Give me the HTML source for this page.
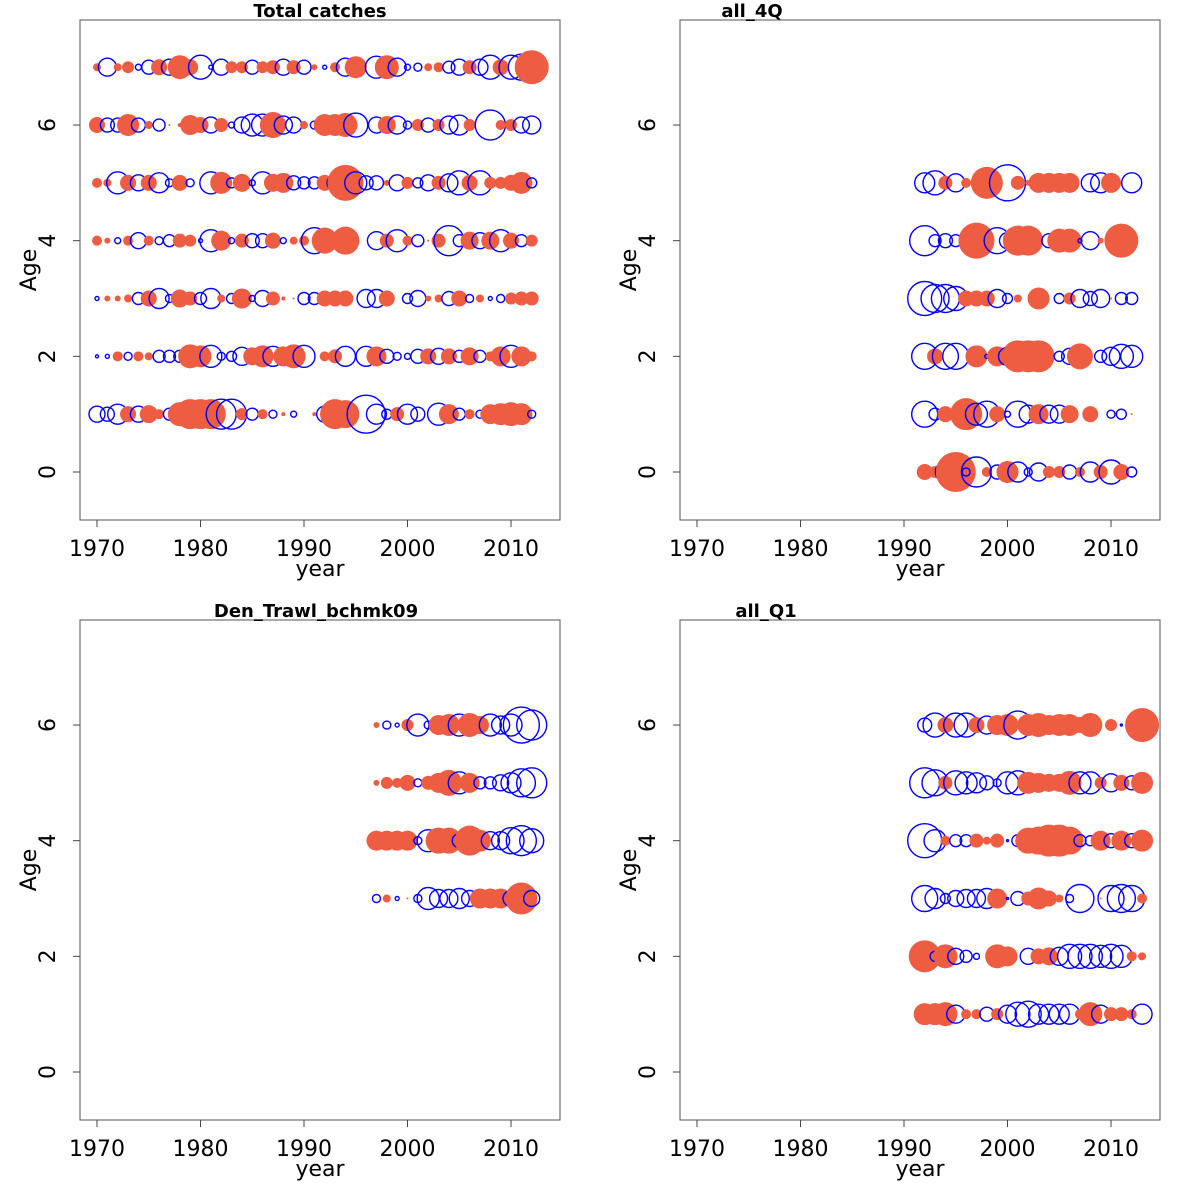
<!DOCTYPE html>
<html><head><meta charset="utf-8"><style>
body{margin:0;background:#fff}
svg{display:block;font-family:"DejaVu Sans","Liberation Sans",sans-serif}
</style></head><body>
<svg id="chart" width="1200" height="1200" viewBox="0 0 1200 1200"></svg>
<script>
// Panel 1: Total catches, years 1970-2012, ages 1..7 (signed residual: + red filled, - blue open)
const p1Years = Array.from({length:43},(_,i)=>1970+i);
const p1Ages = [1,2,3,4,5,6,7];
const p1Age1 = [-8,-7,-10,8,-8,9,5,-6,12,15,15,15,-15,-15,6,-6,5,-4,2,-3,0,2,-8,15,14,0,-19,-10,-5,7,-10,-7,0,-11,10,-6,5,-4,10,11,12,11,-4];
const p1Age2 = [-1.5,-2,5,-4,5,4,-6,-6,-6,12,11,-11,-4,-5,-9,9,11,-10,10,12,-11,0,5,7,-10,0,-10,10,-7,-4,-3,-7,8,-8,8,-6,9,-6,5,10,-11,10,5];
const p1Age3 = [-2,3,3,4,-6,8,-10,-4,9,7,-6,-10,4,-5,10,-3,-8,7,2,1,-6,-6,8,8,8,0,-9,-9,8,0,-5,-8,3,4,-7,8,-4,4,-2,-4,6,7,7];
const p1Age4 = [5,3,-3,5,-8,5,-4,-6,7,6,-2,-11,10,-3,7,-7,-7,8,-3,4,5,-13,13,0,14,0,0,-9,7,-11,5,-6,1,7,-15,-6,9,-8,9,-11,8,-6,6];
const p1Age5 = [5,4,-11,8,-8,8,-10,-4,8,-4,0,-11,11,-5,9,-3,-11,9,10,-7,-6,-6,8,-8,18,-11,-7,-7,3,-8,6,-5,-8,7,-9,-12,8,-12,6,6,8,11,-5];
const p1Age6 = [8,-7,-7,11,-7,4,-6,1,2,10,8,-8,7,-3,-8,-11,-11,13,-9,-8,4,-4,11,11,12,-12,0,-8,9,-9,-4,6,-7,6,-9,-10,6,0,-15,5,6,-8,-9];
const p1Age7 = [4,-9,4,6,-3,-7,8,-8,12,8,-12,-2,-8,6,6,-7,6,7,-8,7,-7,3,-2,5,-9,11,0,-11,12,-9,-3,-4,4,5,-6,-8,7,-8,-12,8,-12,-13,17];
const p1Rows = [p1Age1,p1Age2,p1Age3,p1Age4,p1Age5,p1Age6,p1Age7];

// Panel 2: all_4Q, years 1992-2012, ages 0..5
const p2Years = Array.from({length:21},(_,i)=>1992+i);
const p2Ages = [0,1,2,3,4,5];
const p2Age0 = [8,6,-10,20,-4,-15,5,-7,11,-10,-4,-9,6,6,-7,5,-10,7,-12,8,-5];
const p2Age1 = [-13,-6,8,0,16,-11,-13,8,-3,-13,-9,10,-9,-9,9,0,8,0,-4,-5,1];
const p2Age2 = [-13,8,-13,-13,0,11,-2,10,-9,16,16,16,0,-5,-8,13,0,-6,-9,-12,-11];
const p2Age3 = [-17,-14,-14,-12,8,8,8,-9,-5,4,0,11,0,-5,6,-9,-7,-9,1,-6,-6];
const p2Age4 = [-15,-6,-7,-6,0,18,0,-13,-8,15,15,0,-7,12,12,-2,-9,3,0,17,0];
const p2Age5 = [-10,-12,7,-9,5,0,16,0,-18,7,3,10,10,10,10,0,-9,-10,10,0,-10];
const p2Rows = [p2Age0,p2Age1,p2Age2,p2Age3,p2Age4,p2Age5];

// Panel 3: Den_Trawl_bchmk09, years 1997-2012, ages 3..6
const p3Years = Array.from({length:16},(_,i)=>1997+i);
const p3Ages = [3,4,5,6];
const p3Age3 = [-4,4,-2,1,-4,-11,-9,-9,-10,-8,10,10,10,-8,16,-8];
const p3Age4 = [10,10,10,10,-4,-11,13,13,-7,15,11,-9,-9,-13,-15,-12];
const p3Age5 = [3,6,5,8,-4,7,10,13,-11,10,-6,-6,-8,-10,-14,-15];
const p3Age6 = [3,-4,-2,6,-11,-4,10,11,-11,12,9,-11,-9,-11,-18,-15];
const p3Rows = [p3Age3,p3Age4,p3Age5,p3Age6];

// Panel 4: all_Q1, years 1992-2013, ages 1..6
const p4Years = Array.from({length:22},(_,i)=>1992+i);
const p4Ages = [1,2,3,4,5,6];
const p4Age1 = [11,11,12,-9,5,5,-7,6,-9,-12,-13,-10,-10,-10,-10,5,12,-9,7,7,5,-10];
const p4Age2 = [16,-5,12,-8,-6,-3,0,12,10,0,-8,8,9,-9,-12,-12,-12,-11,-12,-11,5,4];
const p4Age3 = [-13,-10,-5,-8,-9,-9,-10,10,-1,-7,7,11,8,4,-4,-14,0,1,-13,-14,-13,5];
const p4Age4 = [-17,-11,5,-6,-6,7,4,7,-1,-6,13,14,16,16,14,-6,-5,10,-7,10,-7,11];
const p4Age5 = [-15,-13,7,-12,-11,-10,-7,-4,-11,-12,11,10,9,9,12,-11,-11,6,-9,8,-7,11];
const p4Age6 = [-7,-12,8,-12,-12,8,-9,10,11,-14,11,12,10,11,11,8,12,0,6,-1,0,17];
const p4Rows = [p4Age1,p4Age2,p4Age3,p4Age4,p4Age5,p4Age6];

const xTicks = [1970,1980,1990,2000,2010];
const yTicks = [0,2,4,6];
const titles = ["Total catches","all_4Q","Den_Trawl_bchmk09","all_Q1"];

const NS="http://www.w3.org/2000/svg";
const svg=document.getElementById('chart');
function mk(tag,attrs,parent){const e=document.createElementNS(NS,tag);for(const k in attrs)e.setAttribute(k,attrs[k]);(parent||svg).appendChild(e);return e;}

const panels=[
 {ox:0,oy:0,years:p1Years,ages:p1Ages,rows:p1Rows,tx:320,name:'total-catches'},
 {ox:600,oy:0,years:p2Years,ages:p2Ages,rows:p2Rows,tx:752,name:'all-4q'},
 {ox:0,oy:600,years:p3Years,ages:p3Ages,rows:p3Rows,tx:316,name:'den-trawl-bchmk09'},
 {ox:600,oy:600,years:p4Years,ages:p4Ages,rows:p4Rows,tx:766,name:'all-q1'}
];

panels.forEach((p,pi)=>{
 const g=mk('g',{});
 
 
 const xs=v=>p.ox+97+(v-1970)*10.35;
 const ys=v=>p.oy+472-v*57.83;
 const frame=mk('rect',{x:p.ox+80,y:p.oy+20,width:480,height:500,fill:'none',stroke:'#555','stroke-width':1},g);
 
 
 const t=mk('text',{x:p.tx,y:p.oy+17,'text-anchor':'middle','font-size':18,'font-weight':'bold'},g);
 t.textContent=titles[pi];
 
 
 xTicks.forEach(v=>{
  mk('line',{x1:xs(v),x2:xs(v),y1:p.oy+520,y2:p.oy+527,stroke:'#444'},g);
  const l=mk('text',{x:xs(v),y:p.oy+556,'text-anchor':'middle','font-size':22},g);
  l.textContent=v;
  
  
 });
 yTicks.forEach(v=>{
  mk('line',{x1:p.ox+73,x2:p.ox+80,y1:ys(v),y2:ys(v),stroke:'#444'},g);
  const l=mk('text',{x:p.ox+55,y:ys(v),'text-anchor':'middle','font-size':22,transform:`rotate(-90 ${p.ox+55} ${ys(v)})`},g);
  l.textContent=v;
  
  
 });
 const xl=mk('text',{x:p.ox+320,y:p.oy+576,'text-anchor':'middle','font-size':22},g);
 xl.textContent='year';
 
 
 const yl=mk('text',{x:p.ox+36,y:p.oy+270,'text-anchor':'middle','font-size':22,transform:`rotate(-90 ${p.ox+36} ${p.oy+270})`},g);
 yl.textContent='Age';
 
 
 p.rows.forEach((row,ai)=>{
  row.forEach((v,yi)=>{
   if(!v)return;
   const c=mk('circle',{cx:xs(p.years[yi]),cy:ys(p.ages[ai]),r:Math.abs(v),
     fill:v>0?'#EE5C42':'none',stroke:v>0?'none':'#0000FF','stroke-width':1.4},g);
   
   
  });
 });
});
</script>
</body></html>
